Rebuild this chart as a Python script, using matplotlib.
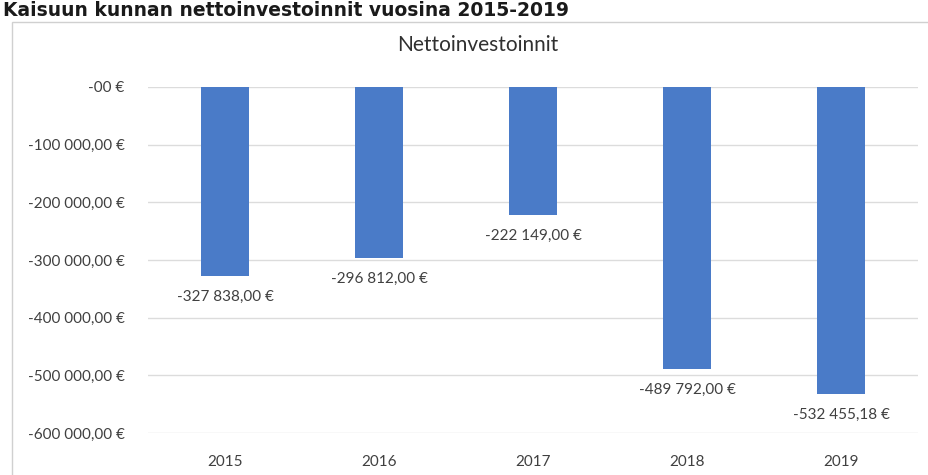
import matplotlib.pyplot as plt
from matplotlib.patches import Rectangle

plt.rcParams['font.family'] = ['Lato', 'DejaVu Sans']

years = ["2015", "2016", "2017", "2018", "2019"]
values = [-327838.00, -296812.00, -222149.00, -489792.00, -532455.18]
value_labels = ["-327 838,00 €", "-296 812,00 €", "-222 149,00 €",
                "-489 792,00 €", "-532 455,18 €"]
yticks = [0, -100000, -200000, -300000, -400000, -500000, -600000]
ytick_labels = ["-00 €", "-100 000,00 €", "-200 000,00 €", "-300 000,00 €",
                "-400 000,00 €", "-500 000,00 €", "-600 000,00 €"]

text_col = "#404040"
bar_col = "#4a7bc8"

fig = plt.figure(figsize=(9.29, 4.75), dpi=100)

# chart frame (partly cut by the scan)
fig.patches.append(Rectangle((12 / 929, -0.1), 1.2, (475 - 22) / 475 + 0.1,
                             transform=fig.transFigure, fill=False,
                             edgecolor="#d0d0d0", linewidth=1.0))

# heading above the chart
fig.text(0.003, 1 - 1 / 475, "Kaisuun kunnan nettoinvestoinnit vuosina 2015-2019",
         ha="left", va="top", fontsize=13.5, fontweight="bold", color="#1a1a1a",
         family="DejaVu Sans")

ax = fig.add_axes([148 / 929, (475 - 433) / 475, 770 / 929, 346 / 475])
x = range(len(years))
ax.bar(x, values, width=0.31, color=bar_col, zorder=3)

for xi, v, lab in zip(x, values, value_labels):
    ax.annotate(lab, (xi, v), xytext=(0, -15), textcoords="offset points",
                ha="center", va="center", fontsize=11, color=text_col)

ax.set_xlim(-0.5, len(years) - 0.5)
ax.set_ylim(-600000, 0)
ax.set_yticks(yticks)
ax.set_yticklabels(ytick_labels)
ax.set_xticks(list(x))
ax.set_xticklabels(years)
ax.tick_params(axis="both", length=0, labelsize=11, colors=text_col)
ax.tick_params(axis="y", pad=17)
ax.tick_params(axis="x", pad=16)
ax.grid(axis="y", color="#dcdcdc", linewidth=1.0, zorder=0)
for s in ax.spines.values():
    s.set_visible(False)

fig.text(478 / 929, 1 - 45 / 475, "Nettoinvestoinnit", ha="center", va="center",
         fontsize=15, color="#303030")

fig.savefig("out.png", dpi=100)
